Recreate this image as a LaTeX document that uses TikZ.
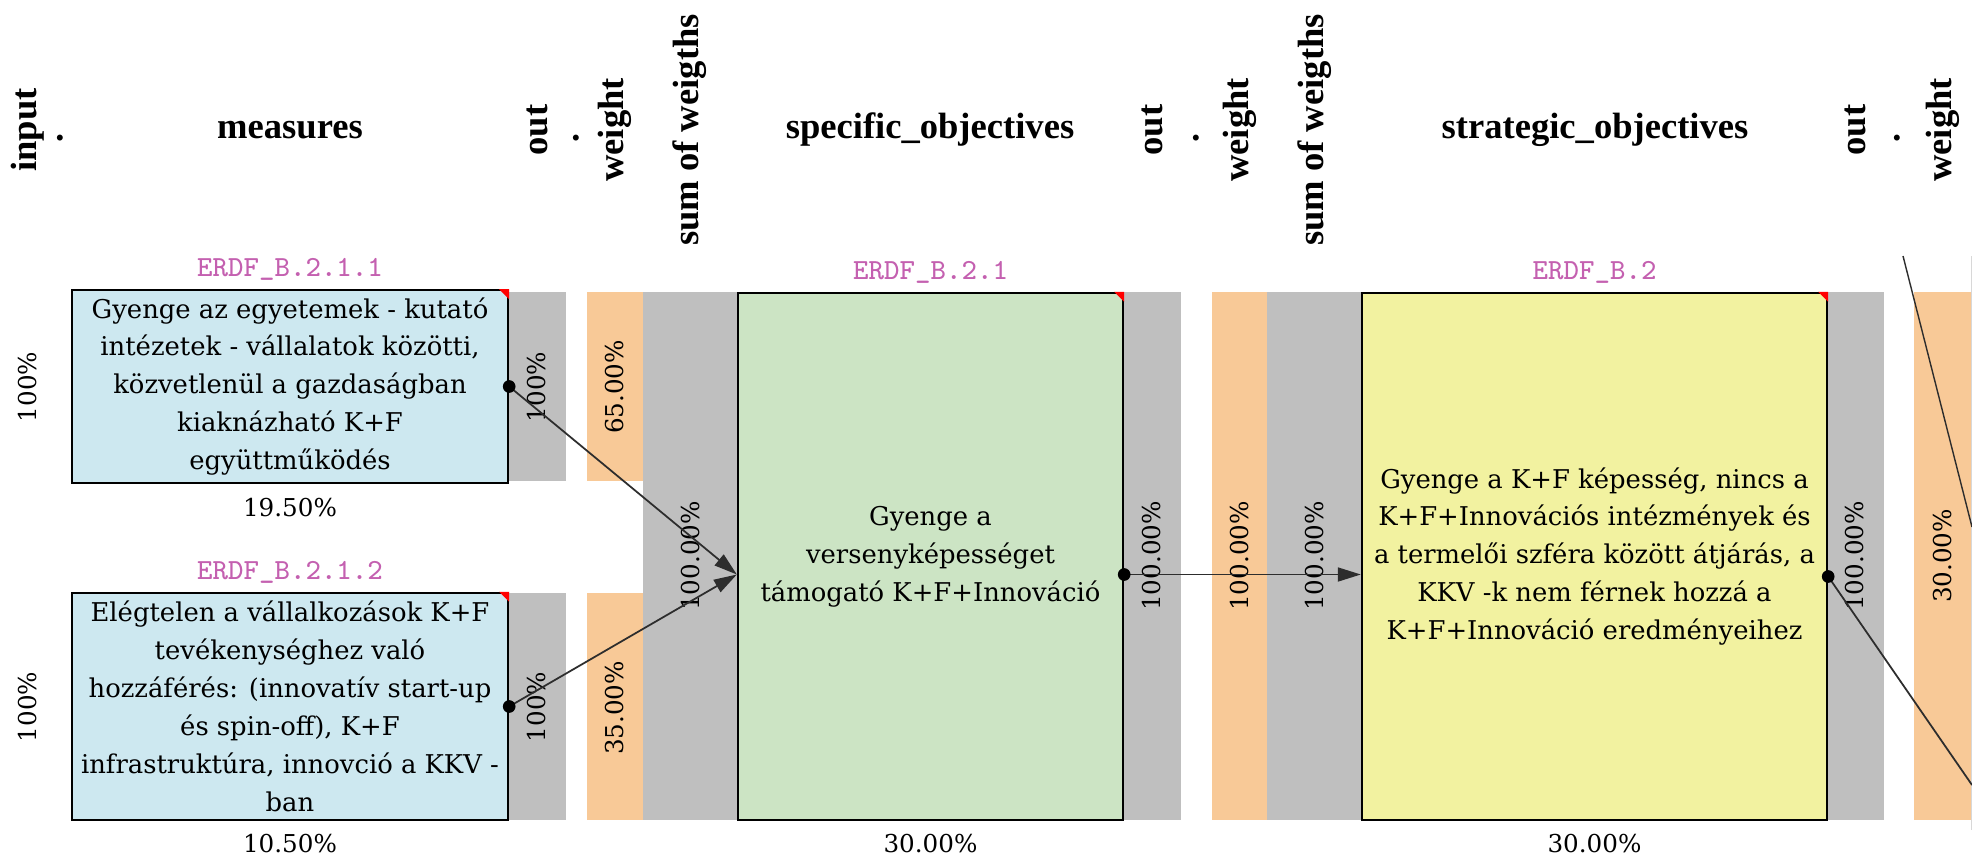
\documentclass[tikz,border=0pt]{standalone}
\usepackage{fontspec}
\setmainfont{DejaVu Serif}
\newfontfamily\headfont{Liberation Serif}
\usetikzlibrary{arrows.meta}

\definecolor{measfill}{RGB}{205,232,240}
\definecolor{specfill}{RGB}{204,228,196}
\definecolor{stratfill}{RGB}{242,242,160}
\definecolor{colgrey}{RGB}{191,191,191}
\definecolor{colweight}{RGB}{248,201,151}
\definecolor{idcolor}{RGB}{196,96,176}
\definecolor{wirecol}{RGB}{45,45,45}

\tikzset{
  head/.style={font=\headfont\bfseries\fontsize{10.4}{12}\selectfont, inner sep=0pt},
  pct/.style={font=\fontsize{7}{8}\selectfont, inner sep=1pt},
  obj/.style={draw=black, line width=0.6pt, align=center, inner sep=2pt,
    font=\fontsize{7.35}{10.8}\selectfont},
  idlabel/.style={font=\ttfamily\fontsize{8.3}{9}\selectfont, text=idcolor,
    inner sep=1pt, label distance=1.2pt},
  wire/.style={draw=wirecol, line width=0.5pt, -{Triangle[length=0.23cm, width=0.14cm]}},
}

\begin{document}
\begin{tikzpicture}[x=0.01cm, y=-0.01cm]
    \fill[white] (0,0) rectangle (1972,858);
    \useasboundingbox (0,0) rectangle (1972,858);

    % column strips
    \fill[colgrey] (508,292) rectangle (566,481);
    \fill[colgrey] (508,593) rectangle (566,820);
    \fill[colweight] (587,292) rectangle (643,481);
    \fill[colweight] (587,593) rectangle (643,820);
    \fill[colgrey] (643,292) rectangle (738,820);
    \fill[colgrey] (1123,292) rectangle (1181,820);
    \fill[colweight] (1212,292) rectangle (1267,820);
    \fill[colgrey] (1267,292) rectangle (1362,820);
    \fill[colgrey] (1827,292) rectangle (1884,820);
    \fill[colweight] (1914,292) rectangle (1971,820);
    \fill[colgrey!60] (1971,256) rectangle (1972,830);

    % headers
    \node[head, rotate=90] (hin) at (28,130) {input};
    \node[head] (dot1) at (60,138) {.};
    \node[head] (hmeas) at (290,130) {measures};
    \node[head, rotate=90] (hout1) at (537,130) {out};
    \node[head] (dot2) at (576,138) {.};
    \node[head, rotate=90] (hw1) at (615,130) {weight};
    \node[head, rotate=90] (hsum1) at (690,130) {sum of weigths};
    \node[head] (hspec) at (930,130) {specific\_objectives};
    \node[head, rotate=90] (hout2) at (1152,130) {out};
    \node[head] (dot3) at (1196,138) {.};
    \node[head, rotate=90] (hw2) at (1240,130) {weight};
    \node[head, rotate=90] (hsum2) at (1315,130) {sum of weigths};
    \node[head] (hstrat) at (1595,130) {strategic\_objectives};
    \node[head, rotate=90] (hout3) at (1855,130) {out};
    \node[head] (dot4) at (1897,138) {.};
    \node[head, rotate=90] (hw3) at (1943,130) {weight};

    % measures
    \node[obj, fill=measfill, minimum width=4.36cm, minimum height=1.89cm,
      label={[idlabel]above:ERDF\_B.2.1.1},
      label={[pct, label distance=2.8pt]below:19.50\%}] (m1) at (290,386.5)
      {Gyenge az egyetemek - kutató\\intézetek - vállalatok közötti,\\közvetlenül a gazdaságban\\kiaknázható K+F\\együttműködés};
    \node[obj, fill=measfill, minimum width=4.36cm, minimum height=2.27cm,
      label={[idlabel]above:ERDF\_B.2.1.2},
      label={[pct, label distance=2.4pt]below:10.50\%}] (m2) at (290,706.5)
      {Elégtelen a vállalkozások K+F\\tevékenységhez való\\hozzáférés: (innovatív start-up\\és spin-off), K+F\\infrastruktúra, innovció a KKV -\\ban};

    % specific objective
    \node[obj, fill=specfill, minimum width=3.85cm, minimum height=5.27cm,
      label={[idlabel]above:ERDF\_B.2.1},
      label={[pct, label distance=2.4pt]below:30.00\%}] (so1) at (930.5,556.5)
      {Gyenge a\\versenyképességet\\támogató K+F+Innováció};

    % strategic objective
    \node[obj, fill=stratfill, minimum width=4.65cm, minimum height=5.27cm,
      label={[idlabel]above:ERDF\_B.2},
      label={[pct, label distance=2.4pt]below:30.00\%}] (st1) at (1594.5,556.5)
      {Gyenge a K+F képesség, nincs a\\K+F+Innovációs intézmények és\\a termelői szféra között átjárás, a\\KKV -k nem férnek hozzá a\\K+F+Innováció eredményeihez};

    % red corner marks
    \foreach \b in {m1,m2,so1,st1}
      \fill[red] (\b.north east) -- ++(-10,0) -- ++(10,10) -- cycle;

    % column values
    \node[pct, rotate=90] (in1) at (28,387) {100\%};
    \node[pct, rotate=90] (in2) at (28,707) {100\%};
    \node[pct, rotate=90] (out1) at (537,387) {100\%};
    \node[pct, rotate=90] (out2) at (537,707) {100\%};
    \node[pct, rotate=90] (w1) at (615,387) {65.00\%};
    \node[pct, rotate=90] (w2) at (615,708) {35.00\%};
    \node[pct, rotate=90] (sum1) at (691,556) {100.00\%};
    \node[pct, rotate=90] (out3) at (1152,556) {100.00\%};
    \node[pct, rotate=90] (w3) at (1240,556) {100.00\%};
    \node[pct, rotate=90] (sum2) at (1315,556) {100.00\%};
    \node[pct, rotate=90] (out4) at (1855,556) {100.00\%};
    \node[pct, rotate=90] (w4) at (1943,556) {30.00\%};

    % connectors
    \draw[wire] (m1.east) -- ([yshift=-0.18cm]so1.west);
    \draw[wire] (m2.east) -- ([yshift=-0.18cm]so1.west);
    \draw[wire] ([yshift=-0.18cm]so1.east) -- ([yshift=-0.18cm]st1.west);

    % lines leaving the page
    \coordinate (offlow) at (1972,785);
    \coordinate (offtop) at (1903,256);
    \coordinate (offside) at (1972,527);
    \draw[draw=wirecol, line width=0.5pt] ([yshift=-0.2cm]st1.east) -- (offlow);
    \draw[draw=wirecol, line width=0.4pt] (offtop) -- (offside);

    % start dots
    \foreach \p in {m1.east, m2.east}
      \fill[black] (\p) circle (1.8pt);
    \fill[black] ([yshift=-0.18cm]so1.east) circle (1.8pt);
    \fill[black] ([yshift=-0.2cm]st1.east) circle (1.8pt);
\end{tikzpicture}
\end{document}
